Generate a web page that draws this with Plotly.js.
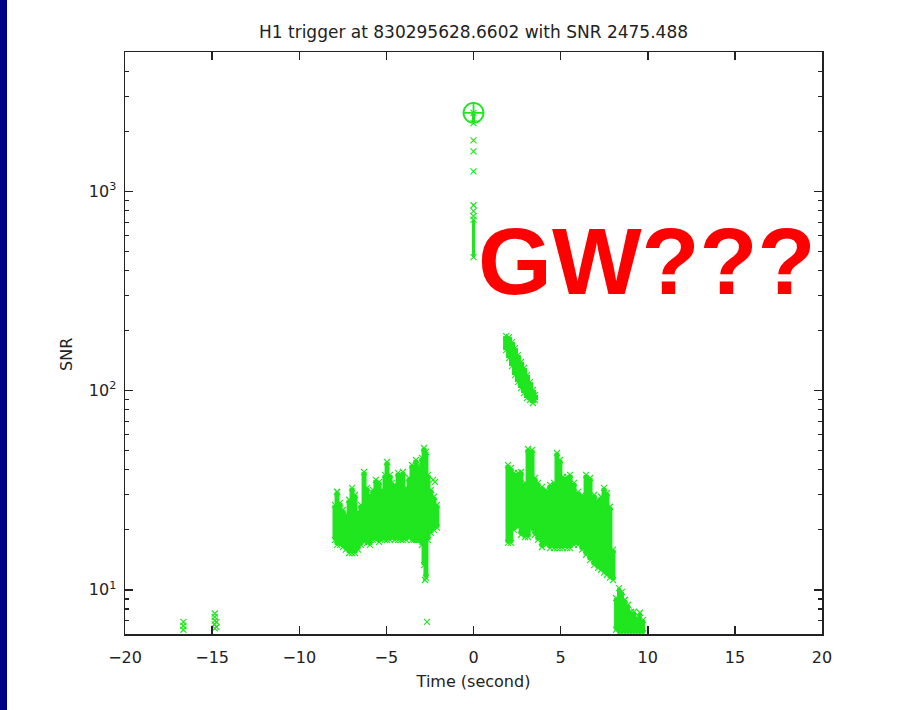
<!DOCTYPE html>
<html><head><meta charset="utf-8">
<script src="https://cdn.plot.ly/plotly-3.0.1.min.js"></script>
<style>
html,body{margin:0;padding:0;background:#fff;}
#bar{position:absolute;left:0;top:0;width:7px;height:710px;background:#000088;z-index:5;}
#chart{width:900px;height:710px;}
</style>
</head><body>
<div id="bar"></div><div id="chart"></div>
<script>
// ---- data (time in seconds relative to trigger, SNR) ----
const xTicks = [-20,-15,-10,-5,0,5,10,15,20];
const yTicks = [10,100,1000];
const yTickText = ['10<sup>1</sup>','10<sup>2</sup>','10<sup>3</sup>'];
const yMinor = [7,8,9,20,30,40,50,60,70,80,90,200,300,400,500,600,700,800,900,2000,3000,4000];

// pre-trigger cluster: columns of triggers (time, lowest SNR, highest SNR)
const leftT  = [-7.95,-7.83,-7.66,-7.49,-7.32,-7.14,-6.97,-6.80,-6.63,-6.46,-6.28,-6.11,-5.94,-5.77,-5.60,-5.42,-5.25,-5.08,-4.96,-4.79,-4.68,-4.51,-4.33,-4.16,-4.05,-3.87,-3.70,-3.53,-3.41,-3.30,-3.19,-3.07,-2.96,-2.84,-2.73,-2.61,-2.44,-2.27,-2.10];
const leftHi = [26.7,31.0,27.3,25.2,23.8,28.3,32.5,29.9,24.6,26.7,39.0,32.5,29.9,31.7,35.6,34.8,31.7,37.7,43.8,37.7,34.4,33.6,38.6,37.3,39.0,32.5,36.4,42.3,40.9,44.8,41.8,40.0,45.9,51.5,49.2,37.7,31.7,29.3,26.7];
const leftLo = [17.8,16.8,16.8,16.4,15.9,15.3,15.3,15.3,15.9,16.8,17.4,17.2,16.8,17.8,17.8,17.4,17.8,17.8,17.8,17.8,18.2,17.8,17.8,17.8,17.8,17.8,18.2,17.8,17.8,17.8,17.8,17.8,16.8,13.3,11.5,17.8,19.3,20.0,20.5];

// post-trigger cluster
const rightT  = [1.98,2.15,2.32,2.55,2.73,2.96,3.13,3.36,3.53,3.70,3.93,4.16,4.39,4.62,4.79,4.96,5.14,5.37,5.54,5.77,6.00,6.23,6.46,6.69,6.92,7.15,7.32,7.49,7.66,7.83,8.01];
const rightHi = [42.3,40.9,38.6,38.6,39.0,34.4,50.9,50.3,36.4,34.4,32.8,31.7,33.6,34.4,48.6,44.8,36.9,36.9,37.7,34.4,31.0,29.9,37.7,36.4,29.9,28.3,29.3,32.5,30.6,26.1,15.9];
const rightLo = [17.2,17.2,20.0,20.7,18.9,18.4,18.4,20.0,18.9,17.8,16.4,16.8,16.2,16.2,16.2,16.2,16.2,16.2,16.2,16.8,16.8,15.9,15.0,14.1,13.3,12.9,12.6,12.2,11.9,11.5,11.2];

// tail of the post-trigger cluster near the bottom
const tailT  = [8.18,8.35,8.52,8.69,8.87,9.04,9.21,9.38,9.55,9.73];
const tailHi = [9.1,10.2,9.77,8.91,8.41,7.76,7.76,7.24,7.67,7.07];
const tailLo = [6.3,6.05,6.05,6.05,6.05,6.05,6.05,6.05,6.05,6.05];

// descending band at 2-3.5 s
const bandT  = [1.87,2.04,2.21,2.38,2.55,2.73,2.90,3.07,3.24,3.41,3.53];
const bandHi = [187.6,185.5,175.1,163.3,150.6,139.0,129.7,119.6,110.3,100.6,95.0];
const bandLo = [159.6,145.5,132.7,119.6,110.3,102.9,97.2,91.7,89.6,86.6,89.6];

// column at the trigger time
const peakT  = [0,0];
const peakHi = [2475,720];
const peakLo = [2200,467];

// isolated triggers
const sparseT   = [0,0,0,0,0,0,-16.65,-16.65,-16.65,-14.85,-14.85,-14.85,-14.85,-14.85,-14.75,-14.75,-2.67,-2.78,-2.21,-2.32,-7.55,-7.83];
const sparseSNR = [1801,1587,1259,851,795,750,6.9,6.6,6.3,7.6,7.3,7.0,6.7,6.4,6.9,6.5,6.9,11.2,34.8,35.6,17.2,31.0];

// loudest trigger
const trigT = [0];
const trigSNR = [2475.488];

// ---- build traces ----
const GREEN = '#1fe61f';
function columns(ts, lo, hi){
  const x=[], y=[];
  for(let i=0;i<ts.length;i++){ x.push(ts[i],ts[i],null); y.push(lo[i],hi[i],null); }
  return {x,y};
}
function ends(ts, lo, hi){
  const x=[], y=[];
  for(let i=0;i<ts.length;i++){ x.push(ts[i],ts[i]); y.push(lo[i],hi[i]); }
  return {x,y};
}
const groups = [
  [leftT,leftLo,leftHi,5],
  [rightT,rightLo,rightHi,5],
  [tailT,tailLo,tailHi,4],
  [bandT,bandLo,bandHi,6],
  [peakT,peakLo,peakHi,3]
];
const traces = [];
groups.forEach(g=>{
  const c = columns(g[0],g[1],g[2]);
  traces.push({x:c.x,y:c.y,type:'scatter',mode:'lines',line:{color:GREEN,width:g[3]},hoverinfo:'skip'});
});
const ex=[], ey=[];
groups.forEach(g=>{ const e=ends(g[0],g[1],g[2]); ex.push(...e.x); ey.push(...e.y); });
traces.push({x:ex.concat(sparseT),y:ey.concat(sparseSNR),type:'scatter',mode:'markers',
  marker:{symbol:'x-thin-open',size:6,color:GREEN,line:{color:'#33cc33',width:1.2}}});
traces.push({x:trigT,y:trigSNR,type:'scatter',mode:'markers',
  marker:{symbol:'circle-cross-open',size:20,color:GREEN,line:{color:'#22dd22',width:1.8}}});

const FONT = 'DejaVu Sans, Liberation Sans, sans-serif';
const layout = {
  width:900,height:710,
  margin:{l:125,r:78,t:52,b:76},
  paper_bgcolor:'#ffffff',plot_bgcolor:'#ffffff',
  showlegend:false,
  font:{family:FONT,size:16,color:'#222'},
  title:{text:'H1 trigger at 830295628.6602 with SNR 2475.488',font:{family:FONT,size:17,color:'#222'},
    x:0.5,xref:'paper',xanchor:'center',y:1-32/710,yref:'container',yanchor:'middle'},
  xaxis:{range:[-20,20],tickmode:'array',tickvals:xTicks,ticks:'inside',ticklen:8,tickwidth:1.5,tickcolor:'#222',
    showline:true,linecolor:'#222',linewidth:1.5,mirror:'ticks',showgrid:false,zeroline:false,
    ticklabelstandoff:8,tickfont:{family:FONT,size:16,color:'#222'},
    title:{text:'Time (second)',font:{family:FONT,size:16,color:'#222'},standoff:10}},
  yaxis:{type:'log',range:[Math.log10(6),Math.log10(5000)],tickmode:'array',tickvals:yTicks,ticktext:yTickText,
    ticks:'inside',ticklen:8,tickwidth:1.5,tickcolor:'#222',
    minor:{tickmode:'array',tickvals:yMinor,ticks:'inside',ticklen:4,tickwidth:1.2,tickcolor:'#222',showgrid:false},
    showline:true,linecolor:'#222',linewidth:1.5,mirror:'ticks',showgrid:false,zeroline:false,
    ticklabelstandoff:4,tickfont:{family:FONT,size:16,color:'#222'}},
  annotations:[
    {text:'SNR',xref:'paper',yref:'paper',x:-0.0832,y:0.4794,xanchor:'center',yanchor:'middle',textangle:-90,
      showarrow:false,font:{family:FONT,size:16,color:'#222'}},
    {text:'<b>GW???</b>',xref:'paper',yref:'paper',x:0.7496,y:0.6409,xanchor:'center',yanchor:'middle',
      showarrow:false,font:{family:'Liberation Sans, Arial, sans-serif',size:95,color:'#ff0000'}}
  ]
};
Plotly.newPlot('chart',traces,layout,{displayModeBar:false,staticPlot:true});
</script>
</body></html>
